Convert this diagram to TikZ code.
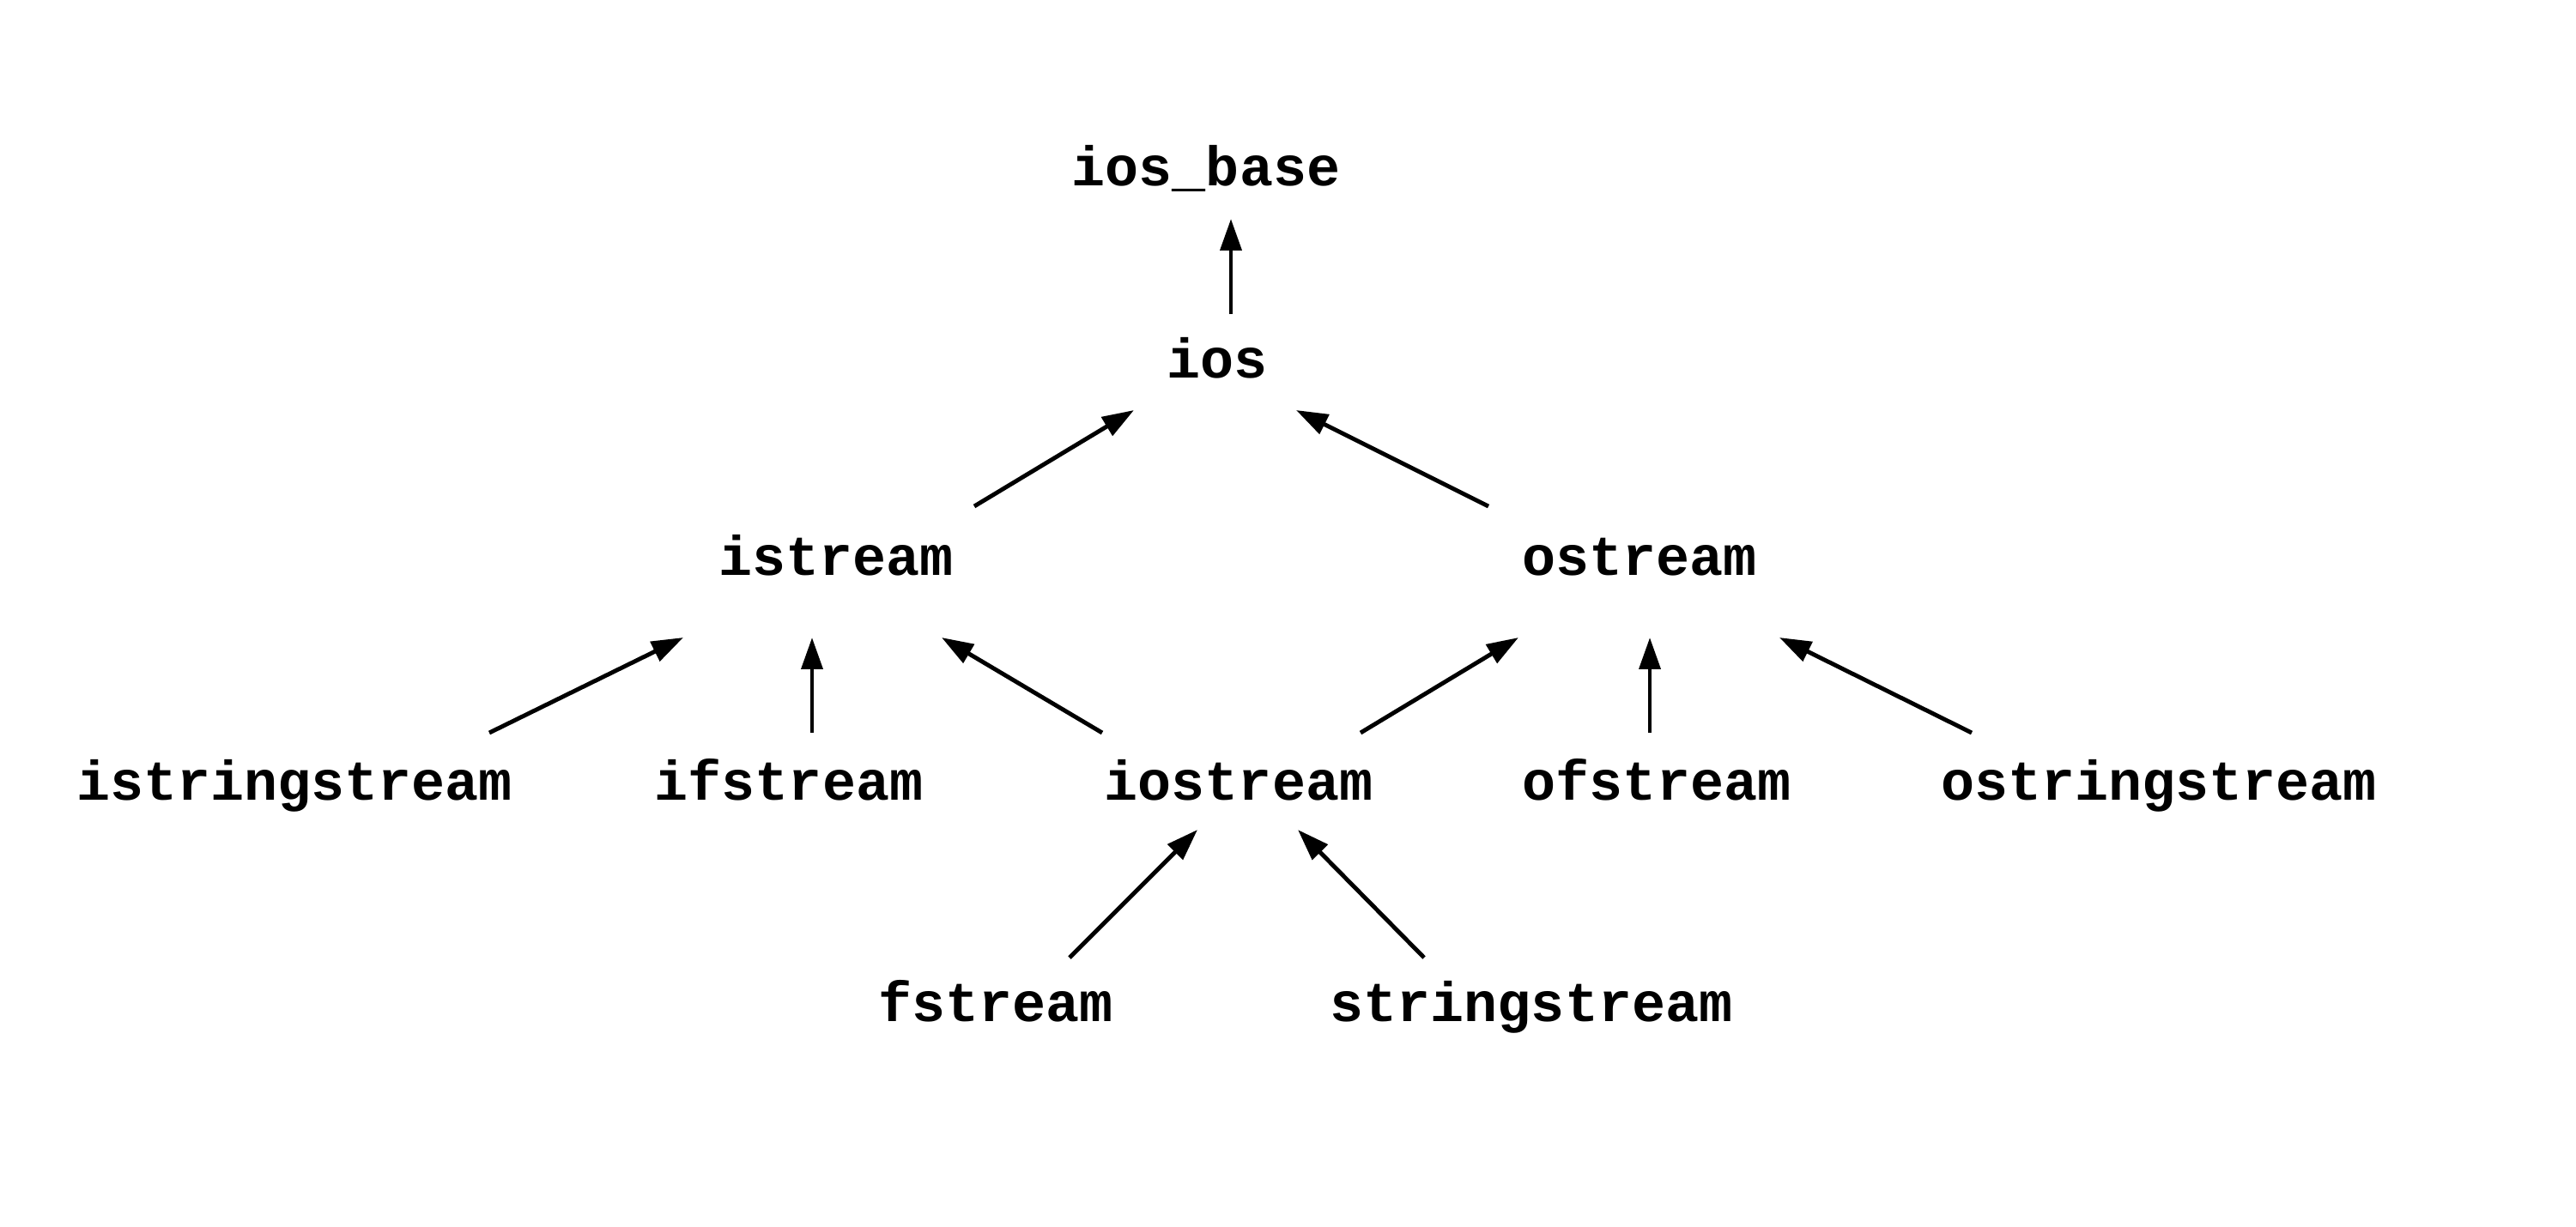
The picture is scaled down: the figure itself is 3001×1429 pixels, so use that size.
\documentclass[tikz,border=0pt]{standalone}
\usepackage{fontspec}
\setmonofont{Liberation Mono}
\usetikzlibrary{arrows.meta}
\tikzset{
  cls/.style={anchor=base, inner sep=0pt, font=\ttfamily\bfseries\fontsize{18.5}{22}\selectfont},
  arr/.style={-{Triangle[length=10.5pt,width=7pt]}, line width=1.4pt, black}
}
\begin{document}
\begin{tikzpicture}[x=0.01cm, y=-0.01cm]
\useasboundingbox[fill=white] (0,0) rectangle (3001,1429);
\node[cls] (iosbase) at (1405,216) {ios\_base};
\node[cls] (ios) at (1418,440) {ios};
\node[cls] (istream) at (974,670) {istream};
\node[cls] (ostream) at (1910,670) {ostream};
\node[cls] (isstream) at (343,932) {istringstream};
\node[cls] (ifstream) at (919,932) {ifstream};
\node[cls] (iostream) at (1443,932) {iostream};
\node[cls] (ofstream) at (1930,932) {ofstream};
\node[cls] (osstream) at (2515,932) {ostringstream};
\node[cls] (fstream) at (1160,1190) {fstream};
\node[cls] (sstream) at (1784,1190) {stringstream};

\draw[arr] ([shift={(16,-74)}]ios.base) -- ([shift={(29,39)}]iosbase.base);
\draw[arr] ([shift={(161,-80)}]istream.base) -- ([shift={(-97,38)}]ios.base);
\draw[arr] ([shift={(-176,-80)}]ostream.base) -- ([shift={(92,38)}]ios.base);
\draw[arr] ([shift={(227,-78)}]isstream.base) -- ([shift={(-178,73)}]istream.base);
\draw[arr] ([shift={(27,-78)}]ifstream.base) -- ([shift={(-28,73)}]istream.base);
\draw[arr] ([shift={(-159,-78)}]iostream.base) -- ([shift={(123,73)}]istream.base);
\draw[arr] ([shift={(142,-78)}]iostream.base) -- ([shift={(-141,73)}]ostream.base);
\draw[arr] ([shift={(-8,-78)}]ofstream.base) -- ([shift={(12,73)}]ostream.base);
\draw[arr] ([shift={(-218,-78)}]osstream.base) -- ([shift={(163,73)}]ostream.base);
\draw[arr] ([shift={(86,-74)}]fstream.base) -- ([shift={(-48,35)}]iostream.base);
\draw[arr] ([shift={(-125,-74)}]sstream.base) -- ([shift={(69,35)}]iostream.base);
\end{tikzpicture}
\end{document}
